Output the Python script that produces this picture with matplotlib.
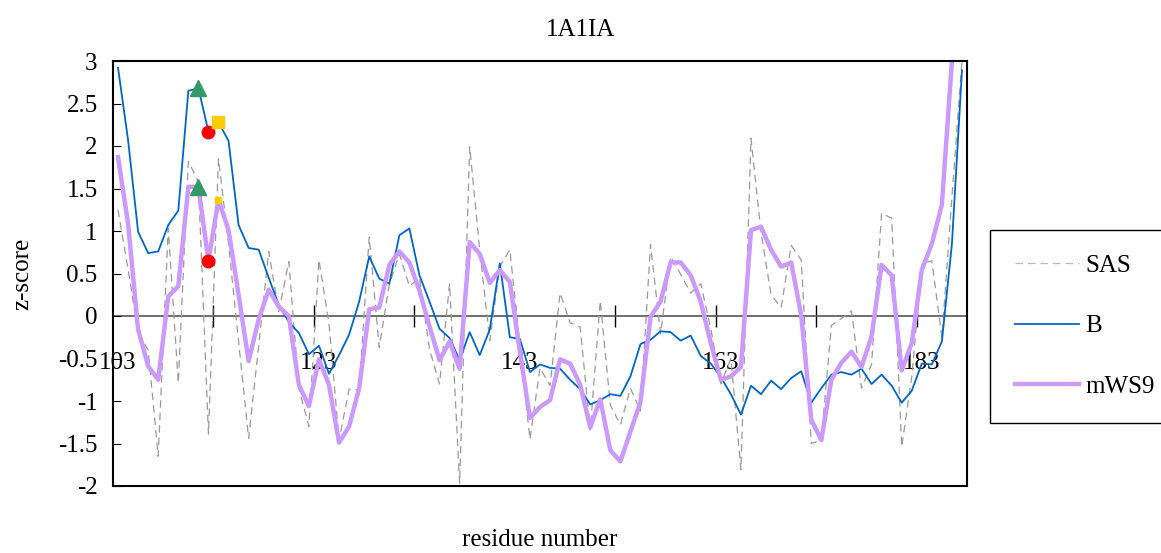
import matplotlib
matplotlib.use("Agg")
import matplotlib.pyplot as plt
import numpy as np

residues = list(range(103, 188))

sas = [1.25, 0.55, -0.20, -0.40, -1.65, 1.03, -0.79, 1.82, 1.58, -1.39,
       1.85, 0.85, -0.30, -1.44, -0.35, 0.76, 0.05, 0.64, -0.85, -1.30,
       0.66, -0.09, -1.46, -0.86, -0.87, 0.93, -0.37, 0.37, 0.73, 0.35,
       0.45, -0.39, -0.80, 0.38, -1.97, 1.99, 0.78, -0.29, 0.58, 0.78,
       -0.35, -1.45, -0.61, -0.82, 0.27, -0.08, -0.13, -1.34, 0.18, -1.05,
       -1.28, -0.85, -1.12, 0.84, -0.21, 0.70, 0.49, 0.27, 0.38, -0.15,
       -0.80, -0.50, -1.81, 2.09, 0.98, 0.25, 0.10, 0.83, 0.66, -1.50,
       -1.46, -0.11, -0.03, 0.06, -0.85, -0.57, 1.21, 1.15, -1.54, -0.72,
       0.61, 0.65, -0.25, 1.40, 3.00]

b_factor = [2.92, 2.07, 0.99, 0.74, 0.76, 1.07, 1.24, 2.65, 2.68, 2.17,
            2.28, 2.06, 1.07, 0.80, 0.78, 0.45, 0.13, -0.07, -0.20, -0.45,
            -0.35, -0.68, -0.46, -0.22, 0.17, 0.70, 0.44, 0.38, 0.95, 1.03,
            0.48, 0.17, -0.15, -0.26, -0.52, -0.19, -0.46, -0.16, 0.62, -0.25,
            -0.27, -0.66, -0.57, -0.61, -0.62, -0.75, -0.86, -1.04, -0.99, -0.92,
            -0.94, -0.71, -0.33, -0.28, -0.18, -0.19, -0.29, -0.23, -0.47, -0.56,
            -0.72, -0.92, -1.16, -0.82, -0.92, -0.76, -0.86, -0.73, -0.65, -1.02,
            -0.85, -0.69, -0.66, -0.69, -0.62, -0.80, -0.69, -0.82, -1.02, -0.88,
            -0.56, -0.57, -0.30, 0.85, 2.89]

mws9 = [1.87, 1.09, -0.16, -0.59, -0.75, 0.23, 0.35, 1.52, 1.52, 0.65,
        1.37, 1.01, 0.25, -0.53, -0.04, 0.31, 0.11, 0.00, -0.81, -1.06,
        -0.51, -0.81, -1.49, -1.30, -0.85, 0.08, 0.10, 0.60, 0.76, 0.63,
        0.30, -0.12, -0.52, -0.30, -0.62, 0.87, 0.73, 0.39, 0.54, 0.40,
        -0.42, -1.20, -1.07, -0.99, -0.51, -0.56, -0.81, -1.31, -0.98, -1.58,
        -1.71, -1.36, -1.01, -0.01, 0.17, 0.63, 0.63, 0.48, 0.17, -0.32,
        -0.75, -0.71, -0.60, 1.01, 1.05, 0.78, 0.58, 0.63, 0.01, -1.22,
        -1.46, -0.75, -0.55, -0.42, -0.60, -0.24, 0.60, 0.48, -0.64, -0.32,
        0.54, 0.85, 1.31, 3.00, 3.60]

# highlighted residues: (residue, marker, colour, size on B, size on mWS9)
highlights = [(111, "^", "#339966", 11, 11),
              (112, "o", "#FF0000", 9, 9),
              (113, "s", "#FFCC00", 9, 5)]

FS = 18
plt.rcParams['font.family'] = ['Liberation Serif', 'DejaVu Serif']
plt.rcParams['font.size'] = FS

W, H = 1161, 553
fig = plt.figure(figsize=(W / 100, H / 100), dpi=100)
ax = fig.add_axes([113 / W, 1 - 486 / H, 854 / W, 425 / H])

x = np.arange(len(residues))
ax.plot(x, sas, color="#9A9A9A", lw=0.9, dashes=(6, 4), label="SAS")
ax.plot(x, b_factor, color="#0066CC", lw=1.3, label="B")
ax.plot(x, mws9, color="#CC99FF", lw=3.2, label="mWS9")

for res, mk, col, s_b, s_m in highlights:
    i = residues.index(res)
    ax.plot(i, b_factor[i], marker=mk, color=col, ms=s_b, ls="none", zorder=5)
    ax.plot(i, mws9[i], marker=mk, color=col, ms=s_m, ls="none", zorder=5)

ax.set_xlim(-0.5, len(residues) - 0.5)
ax.set_ylim(-2, 3)
yt = np.arange(-2, 3.01, 0.5)
ax.set_yticks(yt)
ax.set_yticklabels([f"{v:g}" for v in yt])
ax.tick_params(axis="y", direction="in", length=6, pad=11, labelsize=FS)
ax.set_xticks([])
for sp in ax.spines.values():
    sp.set_linewidth(1.5)
    sp.set_color("black")

# category axis crossing at z = 0
zax = ax.secondary_xaxis(0, transform=ax.transData)
zax.spines["bottom"].set_color("#555555")
zax.spines["bottom"].set_linewidth(1.2)
zax.set_xticks([i - 0.5 for i in range(10, len(residues), 10)], [])
zax.set_xticks(x[::20], [str(r) for r in residues[::20]], minor=True)
zax.tick_params(which="major", direction="inout", length=16, width=1, color="black")
zax.tick_params(which="minor", length=0, pad=26, labelsize=FS)

fig.text(0.5, 1 - 30 / H, "1A1IA", ha="center", va="center", fontsize=FS)
ax.set_xlabel("residue number", fontsize=FS, va="center")
ax.xaxis.set_label_coords(0.5, -(540 - 486) / 425)
ax.set_ylabel("z-score", fontsize=FS, va="center")
ax.yaxis.set_label_coords((22 - 113) / 854, 0.5)

leg = ax.legend(loc="upper left", bbox_to_anchor=(990 / W, 1 - 230 / H),
                bbox_transform=fig.transFigure, borderaxespad=0, fancybox=False,
                edgecolor="black", framealpha=1, handlelength=2.56,
                handletextpad=0.28, labelspacing=1.52, borderpad=0.98, fontsize=FS)
leg.get_frame().set_linewidth(1.0)
leg.get_lines()[0].set_color("#BBBBBB")

fig.savefig("out.png", dpi=100)
